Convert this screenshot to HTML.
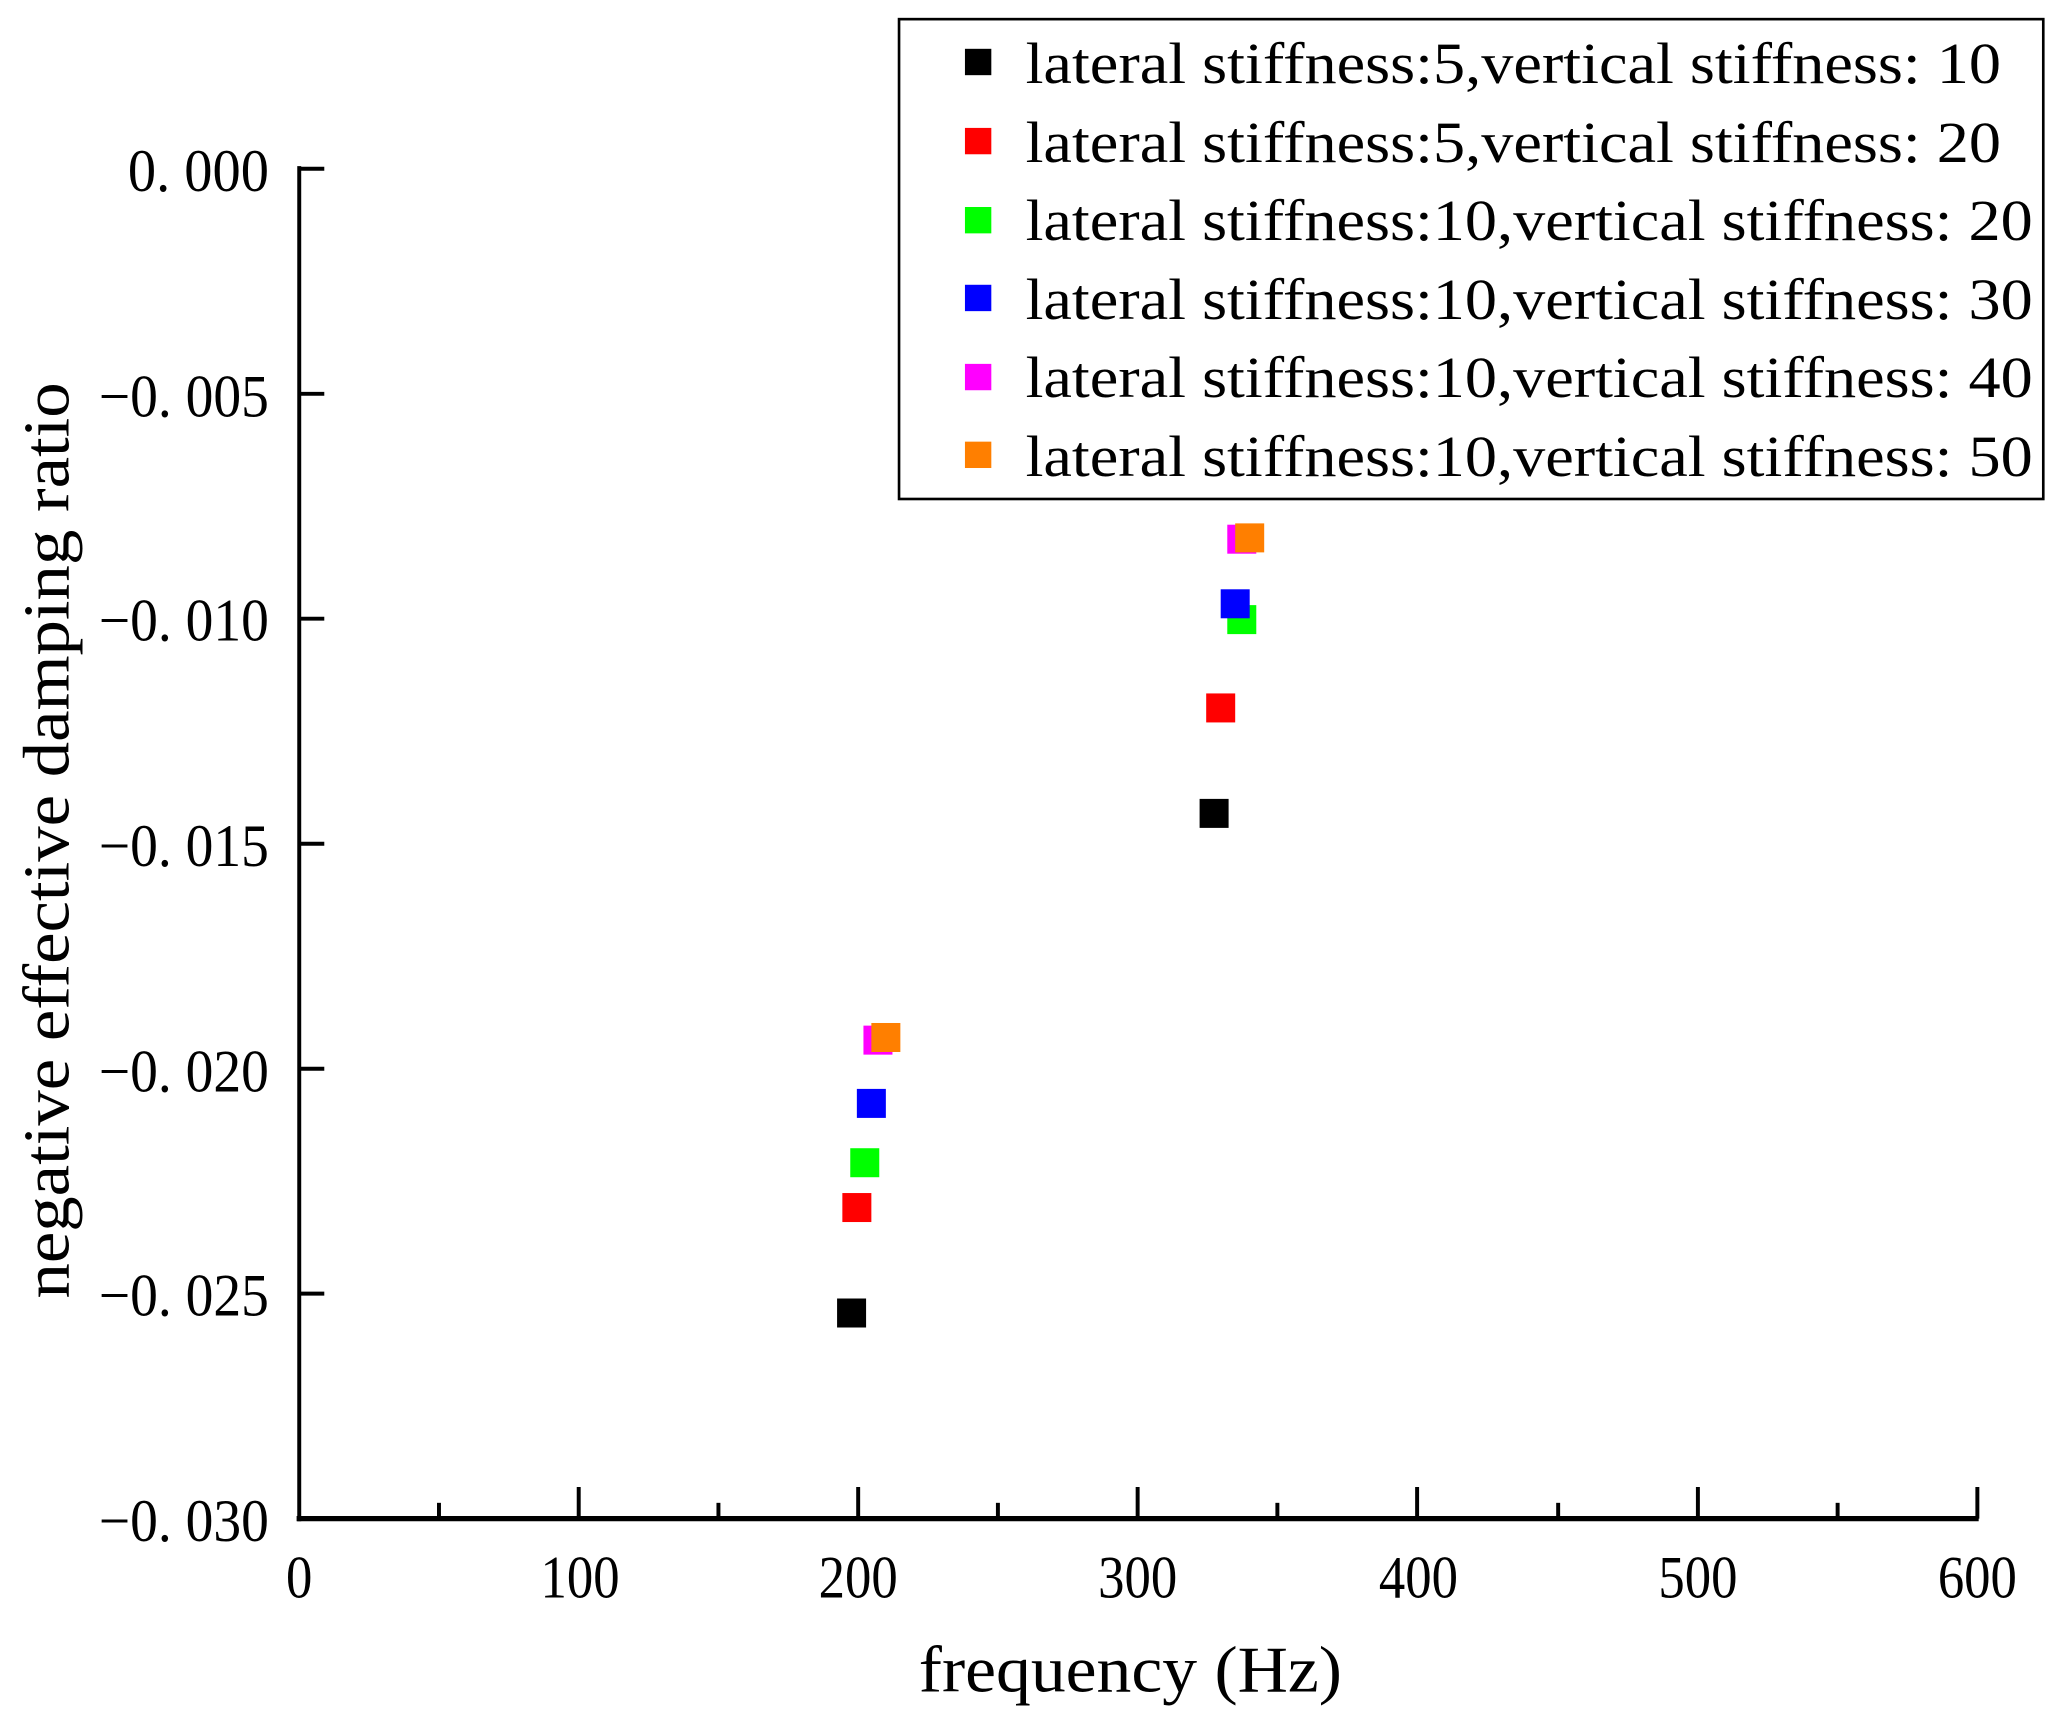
<!DOCTYPE html>
<html><head><meta charset="utf-8"><style>html,body{margin:0;padding:0;background:#fff}svg{display:block}</style></head>
<body>
<svg width="2067" height="1730" viewBox="0 0 1568 1312.3" xmlns="http://www.w3.org/2000/svg" font-family="'Liberation Serif', serif">
<rect width="1568" height="1312.3" fill="#fff"/>
<g stroke="#000" fill="none">
<line x1="227" y1="126" x2="227" y2="1154" stroke-width="3"/>
<line x1="225" y1="1152" x2="1501" y2="1152" stroke-width="4"/>
<g stroke-width="3">
<line x1="227" y1="128" x2="246" y2="128"/>
<line x1="227" y1="298.7" x2="246" y2="298.7"/>
<line x1="227" y1="469.3" x2="246" y2="469.3"/>
<line x1="227" y1="640" x2="246" y2="640"/>
<line x1="227" y1="810.7" x2="246" y2="810.7"/>
<line x1="227" y1="981.3" x2="246" y2="981.3"/>
<line x1="439" y1="1152" x2="439" y2="1128"/>
<line x1="651" y1="1152" x2="651" y2="1128"/>
<line x1="863" y1="1152" x2="863" y2="1128"/>
<line x1="1075" y1="1152" x2="1075" y2="1128"/>
<line x1="1288" y1="1152" x2="1288" y2="1128"/>
<line x1="1500" y1="1152" x2="1500" y2="1128"/>
<line x1="333" y1="1152" x2="333" y2="1140"/>
<line x1="545" y1="1152" x2="545" y2="1140"/>
<line x1="757" y1="1152" x2="757" y2="1140"/>
<line x1="969" y1="1152" x2="969" y2="1140"/>
<line x1="1182" y1="1152" x2="1182" y2="1140"/>
<line x1="1394" y1="1152" x2="1394" y2="1140"/>
</g>
</g>
<g font-size="46" text-anchor="end" fill="#000">
<text x="204" y="145" textLength="107" lengthAdjust="spacingAndGlyphs">0. 000</text>
<text x="204" y="316" textLength="129" lengthAdjust="spacingAndGlyphs">−0. 005</text>
<text x="204" y="486" textLength="129" lengthAdjust="spacingAndGlyphs">−0. 010</text>
<text x="204" y="657" textLength="129" lengthAdjust="spacingAndGlyphs">−0. 015</text>
<text x="204" y="828" textLength="129" lengthAdjust="spacingAndGlyphs">−0. 020</text>
<text x="204" y="998" textLength="129" lengthAdjust="spacingAndGlyphs">−0. 025</text>
<text x="204" y="1169" textLength="129" lengthAdjust="spacingAndGlyphs">−0. 030</text>
</g>
<g font-size="46" text-anchor="middle" fill="#000">
<text x="227" y="1212" textLength="20" lengthAdjust="spacingAndGlyphs">0</text>
<text x="440" y="1212" textLength="60" lengthAdjust="spacingAndGlyphs">100</text>
<text x="651" y="1212" textLength="60" lengthAdjust="spacingAndGlyphs">200</text>
<text x="863" y="1212" textLength="60" lengthAdjust="spacingAndGlyphs">300</text>
<text x="1076" y="1212" textLength="60" lengthAdjust="spacingAndGlyphs">400</text>
<text x="1288" y="1212" textLength="60" lengthAdjust="spacingAndGlyphs">500</text>
<text x="1500" y="1212" textLength="60" lengthAdjust="spacingAndGlyphs">600</text>
</g>
<text x="697" y="1283" font-size="50" textLength="321" lengthAdjust="spacingAndGlyphs">frequency (Hz)</text>
<text transform="translate(52,985) rotate(-90)" font-size="50" textLength="695" lengthAdjust="spacingAndGlyphs">negative effective damping ratio</text>
<g>
<rect x="635" y="985" width="22" height="22" fill="#000"/>
<rect x="639" y="905" width="22" height="22" fill="#f00"/>
<rect x="645" y="871" width="22" height="22" fill="#0f0"/>
<rect x="650" y="826" width="22" height="22" fill="#00f"/>
<rect x="655" y="778" width="22" height="22" fill="#f0f"/>
<rect x="661" y="776" width="22" height="22" fill="#ff7f00"/>
<rect x="910" y="606" width="22" height="22" fill="#000"/>
<rect x="915" y="526" width="22" height="22" fill="#f00"/>
<rect x="931" y="459" width="22" height="22" fill="#0f0"/>
<rect x="926" y="447" width="22" height="22" fill="#00f"/>
<rect x="931" y="398" width="22" height="22" fill="#f0f"/>
<rect x="937" y="397" width="22" height="22" fill="#ff7f00"/>
</g>
<rect x="682" y="14.5" width="868" height="364" fill="#fff" stroke="#000" stroke-width="2"/>
<g font-size="44" fill="#000">
<rect x="732" y="37" width="20" height="20" fill="#000"/>
<text x="778" y="63" textLength="740" lengthAdjust="spacingAndGlyphs">lateral stiffness:5,vertical stiffness: 10</text>
<rect x="732" y="97" width="20" height="20" fill="#f00"/>
<text x="778" y="123" textLength="740" lengthAdjust="spacingAndGlyphs">lateral stiffness:5,vertical stiffness: 20</text>
<rect x="732" y="157" width="20" height="20" fill="#0f0"/>
<text x="778" y="182" textLength="764" lengthAdjust="spacingAndGlyphs">lateral stiffness:10,vertical stiffness: 20</text>
<rect x="732" y="216" width="20" height="20" fill="#00f"/>
<text x="778" y="242" textLength="764" lengthAdjust="spacingAndGlyphs">lateral stiffness:10,vertical stiffness: 30</text>
<rect x="732" y="276" width="20" height="20" fill="#f0f"/>
<text x="778" y="301" textLength="764" lengthAdjust="spacingAndGlyphs">lateral stiffness:10,vertical stiffness: 40</text>
<rect x="732" y="335" width="20" height="20" fill="#ff7f00"/>
<text x="778" y="361" textLength="764" lengthAdjust="spacingAndGlyphs">lateral stiffness:10,vertical stiffness: 50</text>
</g>
</svg>
</body></html>
